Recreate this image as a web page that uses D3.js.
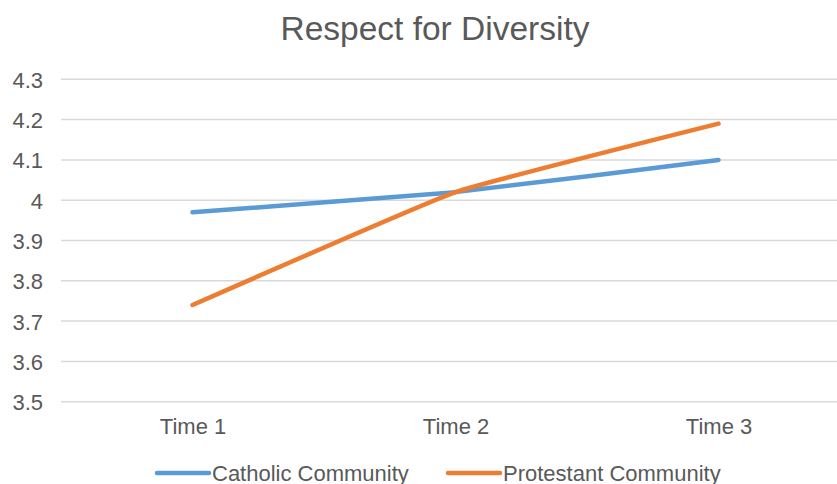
<!DOCTYPE html>
<html>
<head>
<meta charset="utf-8">
<script src="https://cdn.jsdelivr.net/npm/d3@7"></script>
<style>
  html, body { margin: 0; padding: 0; background: #fff; }
  svg { display: block; font-family: "Liberation Sans", Arial, sans-serif; }
</style>
</head>
<body>
<svg id="chart" width="837" height="484"></svg>
<script>
// Survey periods and mean scores per community
const categories = ["Time 1", "Time 2", "Time 3"];
const catholic = [3.97, 4.02, 4.10];
const protestant = [3.74, 4.02, 4.19];
const yTicks = [3.5, 3.6, 3.7, 3.8, 3.9, 4.0, 4.1, 4.2, 4.3];
const seriesNames = ["Catholic Community", "Protestant Community"];
const seriesColors = ["#5B9BD5", "#ED7D31"];

const svg = d3.select("#chart");
const plot = { left: 61, right: 850, top: 79.3, bottom: 401.7 };
const textColor = "#595959";

const x = d3.scalePoint().domain(categories).range([plot.left, plot.right]).padding(0.5);
const y = d3.scaleLinear().domain([3.5, 4.3]).range([plot.bottom, plot.top]);

// Title
svg.append("text")
  .attr("x", 435).attr("y", 40)
  .attr("text-anchor", "middle")
  .attr("fill", textColor)
  .style("font-size", "33.5px")
  .text("Respect for Diversity");

// Horizontal gridlines
svg.append("g").selectAll("line").data(yTicks).join("line")
  .attr("x1", plot.left).attr("x2", plot.right)
  .attr("y1", d => y(d)).attr("y2", d => y(d))
  .attr("stroke", "#d9d9d9").attr("stroke-width", 1.5);

// Y axis labels (no domain line, no ticks)
const yAxis = d3.axisLeft(y).tickValues(yTicks).tickSize(0).tickPadding(0)
  .tickFormat(d => String(+d.toFixed(1)));
const gy = svg.append("g").attr("transform", "translate(43,0)").call(yAxis);
gy.select(".domain").remove();
gy.selectAll("text").attr("fill", textColor).style("font-size", "22px")
  .attr("font-family", null).attr("dy", "0.36em");

// X axis labels
const xAxis = d3.axisBottom(x).tickSize(0).tickPadding(0);
const gx = svg.append("g").attr("transform", `translate(0,${plot.bottom})`).call(xAxis);
gx.select(".domain").remove();
gx.selectAll("text").attr("fill", textColor).style("font-size", "22px")
  .attr("font-family", null).attr("dy", null).attr("y", 32);

// Lightly smoothed series lines
const line = d3.line()
  .x((d, i) => x(categories[i]))
  .y(d => y(d))
  .curve(d3.curveCardinal.tension(0.7));

[catholic, protestant].forEach((vals, i) => {
  svg.append("path")
    .datum(vals)
    .attr("d", line)
    .attr("fill", "none")
    .attr("stroke", seriesColors[i])
    .attr("stroke-width", 4.5)
    .attr("stroke-linecap", "round")
    .attr("stroke-linejoin", "round");
});

// Legend
const legendItems = [
  { x: 157, name: seriesNames[0], color: seriesColors[0] },
  { x: 448, name: seriesNames[1], color: seriesColors[1] }
];
const lg = svg.append("g");
legendItems.forEach(it => {
  lg.append("line")
    .attr("x1", it.x).attr("x2", it.x + 52)
    .attr("y1", 473).attr("y2", 473)
    .attr("stroke", it.color).attr("stroke-width", 4.5)
    .attr("stroke-linecap", "round");
  lg.append("text")
    .attr("x", it.x + 55).attr("y", 480.5)
    .attr("fill", textColor)
    .style("font-size", "22px")
    .text(it.name);
});
</script>
</body>
</html>
